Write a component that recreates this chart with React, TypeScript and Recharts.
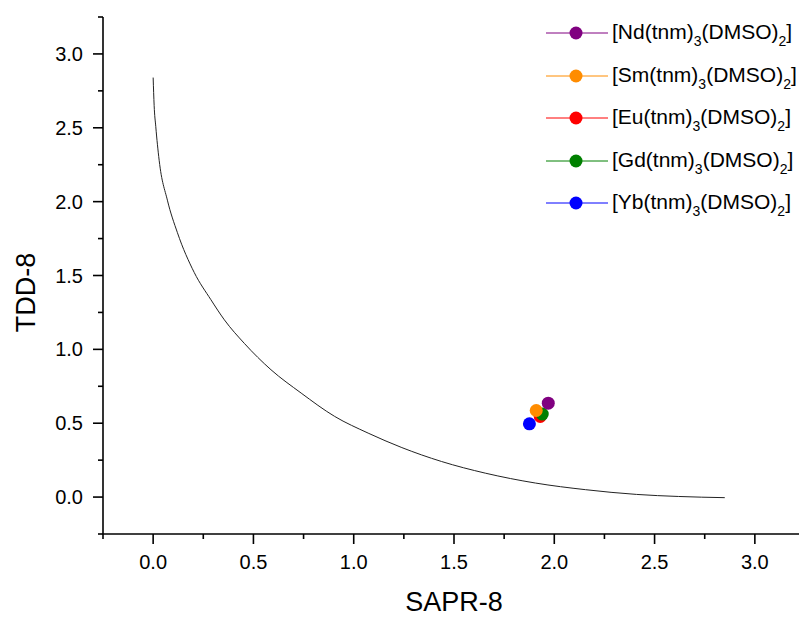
import { ComposedChart, Line, Scatter, XAxis, YAxis, Legend } from "recharts"

const FONT = '"Liberation Sans", Arial, sans-serif'

// ideal SAPR-8 -> TDD-8 path (shape measures)
const pathSapr = [0, 0.005, 0.013, 0.03, 0.071, 0.121, 0.205, 0.288, 0.355, 0.455, 0.5875, 0.738, 0.905, 1.072, 1.24, 1.4375, 1.656, 1.906, 2.156, 2.41, 2.62, 2.85]
const pathTdd = [2.84, 2.65, 2.51, 2.28, 2.01, 1.79, 1.52, 1.336, 1.2, 1.04, 0.862, 0.704, 0.546, 0.433, 0.335, 0.241, 0.162, 0.095, 0.05, 0.018, 0.004, -0.004]

const complexes = ["Nd", "Sm", "Eu", "Gd", "Yb"]
const complexColors = ["#800080", "#ff8c00", "#ff0000", "#008000", "#0000ff"]
const complexSapr = [1.97, 1.91, 1.93, 1.94, 1.876]
const complexTdd = [0.636, 0.586, 0.546, 0.562, 0.496]
const drawOrder = [2, 3, 1, 0, 4]

const axisTicks = [-0.25, 0, 0.25, 0.5, 0.75, 1, 1.25, 1.5, 1.75, 2, 2.25, 2.5, 2.75, 3, 3.25]

const curveData = pathSapr.map((x, i) => ({ x, y: pathTdd[i] }))

const isMajor = (v: number) => Math.abs(v * 2 - Math.round(v * 2)) < 1e-6

function XTick({ x, y, payload }: any) {
  const v = payload.value
  const major = isMajor(v)
  return (
    <g>
      <line x1={x} x2={x} y1={y} y2={y + (major ? 10 : 5)} stroke="#000" strokeWidth={1.6} />
      {major && (
        <text x={x} y={y + 35} textAnchor="middle" fontSize={20} fontFamily={FONT} fill="#000">
          {v.toFixed(1)}
        </text>
      )}
    </g>
  )
}

function YTick({ x, y, payload }: any) {
  const v = payload.value
  const major = isMajor(v)
  return (
    <g>
      <line x1={x - (major ? 10 : 5)} x2={x} y1={y} y2={y} stroke="#000" strokeWidth={1.6} />
      {major && (
        <text x={x - 20} y={y + 7} textAnchor="end" fontSize={20} fontFamily={FONT} fill="#000">
          {v.toFixed(1)}
        </text>
      )}
    </g>
  )
}

function ComplexLegend() {
  return (
    <div style={{ fontFamily: FONT, fontSize: 21, color: "#000" }}>
      {complexes.map((m, i) => (
        <div key={m} style={{ display: "flex", alignItems: "center", height: 42.5 }}>
          <svg width={62} height={16} style={{ display: "block" }}>
            <line x1={0} x2={62} y1={8} y2={8} stroke={complexColors[i]} strokeWidth={1} />
            <circle cx={30} cy={8} r={6.5} fill={complexColors[i]} />
          </svg>
          <span style={{ marginLeft: 4, whiteSpace: "nowrap", lineHeight: "24px" }}>
            [{m}(tnm)
            <span style={{ fontSize: 14, position: "relative", top: 7 }}>3</span>
            (DMSO)
            <span style={{ fontSize: 14, position: "relative", top: 7 }}>2</span>]
          </span>
        </div>
      ))}
    </div>
  )
}

export default function App() {
  return (
    <ComposedChart width={799} height={609} data={curveData}
      margin={{ top: 9, right: 2, bottom: 0, left: 0 }}>
      <XAxis dataKey="x" type="number" domain={[-0.25, 3.25]} ticks={axisTicks} interval={0}
        allowDataOverflow height={83} tickSize={0} tickMargin={0} tickLine={false}
        axisLine={{ stroke: "#000", strokeWidth: 1.6 }} tick={<XTick />}
        label={{
          content: (p: any) => (
            <text x={p.viewBox.x + p.viewBox.width / 2} y={p.viewBox.y + 77} textAnchor="middle"
              fontSize={27} fontFamily={FONT} fill="#000">SAPR-8</text>
          ),
        }} />
      <YAxis dataKey="y" type="number" domain={[-0.25, 3.25]} ticks={axisTicks} interval={0}
        allowDataOverflow width={95} tickSize={0} tickMargin={0} tickLine={false}
        axisLine={{ stroke: "#000", strokeWidth: 1.6 }} tick={<YTick />}
        label={{
          content: (p: any) => {
            const cx = p.viewBox.x + 27
            const cy = p.viewBox.y + p.viewBox.height / 2 + 17
            return (
              <text x={cx} y={cy} transform={`rotate(-90, ${cx}, ${cy})`} textAnchor="middle"
                fontSize={27} fontFamily={FONT} fill="#000">TDD-8</text>
            )
          },
        }} />
      <Line data={curveData} dataKey="y" type="monotone" stroke="#222" strokeWidth={1}
        dot={false} activeDot={false} isAnimationActive={false} legendType="none" />
      {drawOrder.map((i) => (
        <Scatter key={complexes[i]} name={complexes[i]} data={[{ x: complexSapr[i], y: complexTdd[i] }]}
          fill={complexColors[i]} isAnimationActive={false}
          shape={(p: any) => <circle cx={p.cx} cy={p.cy} r={6.5} fill={complexColors[i]} />} />
      ))}
      <Legend layout="vertical" align="center" verticalAlign="middle" content={<ComplexLegend />}
        wrapperStyle={{ left: 538, top: 4, width: 265 }} />
    </ComposedChart>
  )
}
